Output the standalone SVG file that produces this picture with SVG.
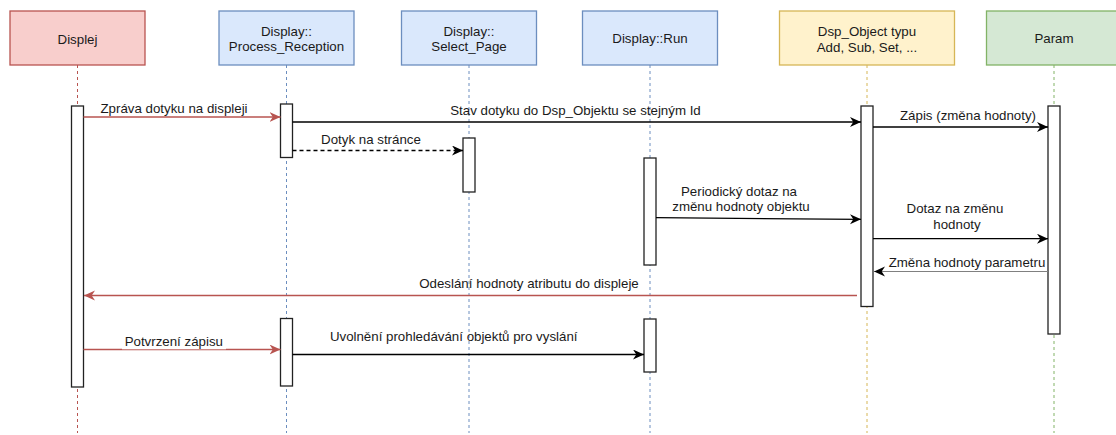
<svg xmlns="http://www.w3.org/2000/svg" width="1116" height="435" viewBox="0 0 1116 435">
<style>
text{font-family:"Liberation Sans",Arial,sans-serif;font-size:13.3px;fill:#1a1a1a;text-anchor:middle}
.hd{stroke-width:1.3}
.red{fill:#f8cecc;stroke:#b85450}
.blue{fill:#dae8fc;stroke:#6c8ebf}
.yel{fill:#fff2cc;stroke:#d6b656}
.grn{fill:#d5e8d4;stroke:#82b366}
.ll{fill:none;stroke-width:1;stroke-dasharray:3 3}
.act{fill:#fff;stroke:#222;stroke-width:1.3}
.m{fill:none;stroke:#000;stroke-width:1.3}
.mr{fill:none;stroke:#b85450;stroke-width:1.3}
</style>
<defs>
<marker id="ab" markerUnits="userSpaceOnUse" markerWidth="12" markerHeight="11" refX="11" refY="5" orient="auto"><path d="M0,0 L11,5 L0,10 L3.3,5 Z" fill="#000"/></marker>
<marker id="ar" markerUnits="userSpaceOnUse" markerWidth="12" markerHeight="11" refX="11" refY="5" orient="auto"><path d="M0,0 L11,5 L0,10 L3.3,5 Z" fill="#b85450"/></marker>
</defs>
<rect width="1116" height="435" fill="#fff"/>

<g id="displej">
<line class="ll" x1="77.5" y1="65" x2="77.5" y2="433" stroke="#b85450"/>
<rect class="hd red" x="10" y="11" width="135" height="54"/>
<text x="77.5" y="44">Displej</text>
<rect class="act" x="71.5" y="106" width="12" height="281"/>
</g>

<g id="process_reception">
<line class="ll" x1="286.5" y1="65" x2="286.5" y2="433" stroke="#6c8ebf"/>
<rect class="hd blue" x="219" y="11" width="135" height="54"/>
<text x="286.5" y="35.5">Display::</text>
<text x="286.5" y="50.5">Process_Reception</text>
<rect class="act" x="280.5" y="104" width="12" height="53.5"/>
<rect class="act" x="280.5" y="318.5" width="12" height="67.5"/>
</g>

<g id="select_page">
<line class="ll" x1="469" y1="65" x2="469" y2="433" stroke="#6c8ebf"/>
<rect class="hd blue" x="401.5" y="11" width="135" height="54"/>
<text x="469" y="35.5">Display::</text>
<text x="469" y="50.5">Select_Page</text>
<rect class="act" x="463" y="138" width="12" height="54"/>
</g>

<g id="display_run">
<line class="ll" x1="650" y1="65" x2="650" y2="433" stroke="#6c8ebf"/>
<rect class="hd blue" x="582.5" y="11" width="135" height="54"/>
<text x="650" y="42.5">Display::Run</text>
<rect class="act" x="644" y="158" width="12" height="107"/>
<rect class="act" x="644" y="319" width="12" height="53"/>
</g>

<g id="dsp_object">
<line class="ll" x1="867" y1="65" x2="867" y2="433" stroke="#d6b656"/>
<rect class="hd yel" x="779.5" y="11" width="175" height="54"/>
<text x="867" y="35.8">Dsp_Object typu</text>
<text x="867" y="51.5">Add, Sub, Set, ...</text>
<rect class="act" x="861" y="106" width="12" height="200.5"/>
</g>

<g id="param">
<line class="ll" x1="1054" y1="65" x2="1054" y2="433" stroke="#82b366"/>
<rect class="hd grn" x="986.5" y="11" width="135" height="54"/>
<text x="1054" y="43">Param</text>
<rect class="act" x="1048" y="106" width="12" height="228"/>
</g>

<g id="connectors">
<line class="mr" x1="83.5" y1="117" x2="280.5" y2="117" marker-end="url(#ar)"/>
<text x="174" y="112.8">Zpráva dotyku na displeji</text>

<line class="m" x1="292.5" y1="122" x2="861" y2="122" marker-end="url(#ab)"/>
<text x="575.5" y="114.5">Stav dotyku do Dsp_Objektu se stejným Id</text>

<line class="m" x1="292.5" y1="150.5" x2="463" y2="150.5" stroke-dasharray="4 3" marker-end="url(#ab)"/>
<text x="371" y="144">Dotyk na stránce</text>

<line class="m" x1="873" y1="127" x2="1048" y2="127" marker-end="url(#ab)"/>
<text x="968" y="119.8">Zápis (změna hodnoty)</text>

<line class="m" x1="656" y1="217.7" x2="861" y2="219.3" marker-end="url(#ab)"/>
<text x="739" y="195.5">Periodický dotaz na</text>
<text x="741" y="210.8">změnu hodnoty objektu</text>

<line class="m" x1="873" y1="238.7" x2="1048" y2="238.7" marker-end="url(#ab)"/>
<text x="955" y="212.5">Dotaz na změnu</text>
<text x="957" y="229">hodnoty</text>

<line x1="1048" y1="271.5" x2="874" y2="271.5" stroke="#808080" stroke-width="1" marker-end="url(#ab)"/>
<text x="967" y="266.8">Změna hodnoty parametru</text>

<line class="mr" x1="857" y1="295.5" x2="84" y2="295.5" marker-end="url(#ar)"/>
<text x="529" y="288">Odeslání hodnoty atributu do displeje</text>

<line class="mr" x1="83.5" y1="349.5" x2="280.5" y2="349.5" marker-end="url(#ar)"/>
<rect x="122" y="332.5" width="104" height="16.8" fill="#fff"/>
<text x="173.8" y="345.5">Potvrzení zápisu</text>

<line class="m" x1="292.5" y1="354.5" x2="644" y2="354.5" marker-end="url(#ab)"/>
<text x="453.7" y="340.8">Uvolnění prohledávání objektů pro vyslání</text>
</g>
</svg>
